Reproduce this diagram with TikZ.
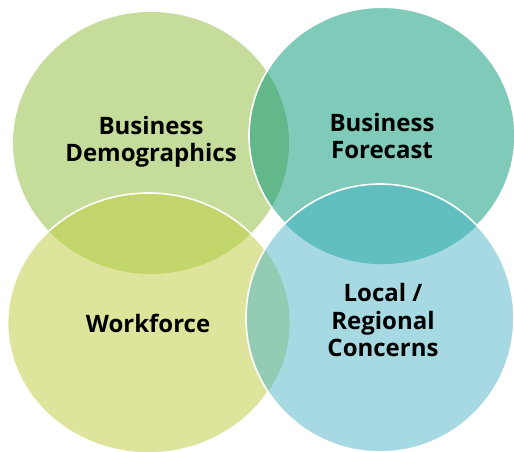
\documentclass[tikz,border=0pt]{standalone}
\usepackage{fontspec}
\setmainfont{Open Sans}
\definecolor{cA}{HTML}{C5DC9A}
\definecolor{cB}{HTML}{80CAB9}
\definecolor{cC}{HTML}{DEE49B}
\definecolor{cD}{HTML}{A6D9E2}
\definecolor{cAB}{HTML}{62B88A}
\definecolor{cAC}{HTML}{C3D66B}
\definecolor{cBD}{HTML}{62BFBF}
\definecolor{cCD}{HTML}{94CCB3}
\newcommand\ellA{(151,143) ellipse [x radius=138pt, y radius=131pt]}
\newcommand\ellB{(382,135.7) ellipse [x radius=133pt, y radius=128.5pt]}
\newcommand\ellC{(148.6,323) ellipse [x radius=141pt, y radius=130pt]}
\newcommand\ellD{(380,318) ellipse [x radius=134pt, y radius=134pt]}
\begin{document}
\begin{tikzpicture}[x=1pt,y=-1pt,
  txt/.style={font=\bfseries\fontsize{24}{27.5}\selectfont, align=center, text=black, inner sep=0pt},
  rim/.style={draw=white, line width=1.6pt}]
\useasboundingbox (0,0) rectangle (514,452);
\clip (0,0) rectangle (514,452);
\fill[cA] \ellA;
\fill[cB] \ellB;
\begin{scope}\clip \ellA; \fill[cAB] \ellB; \end{scope}
\draw[rim] \ellB;
\fill[cC] \ellC;
\begin{scope}\clip \ellA; \fill[cAC] \ellC; \end{scope}
\draw[rim] \ellC;
\fill[cD] \ellD;
\begin{scope}\clip \ellB; \fill[cBD] \ellD; \end{scope}
\begin{scope}\clip \ellC; \fill[cCD] \ellD; \end{scope}
\draw[rim] \ellD;
\node[txt] (bd) at (151,142) {Business\\Demographics};
\node[txt] (bf) at (382,136) {Business\\Forecast};
\node[txt] (wf) at (148,323) {Workforce};
\node[txt] (lr) at (383,320) {Local /\\Regional\\Concerns};
\end{tikzpicture}
\end{document}
